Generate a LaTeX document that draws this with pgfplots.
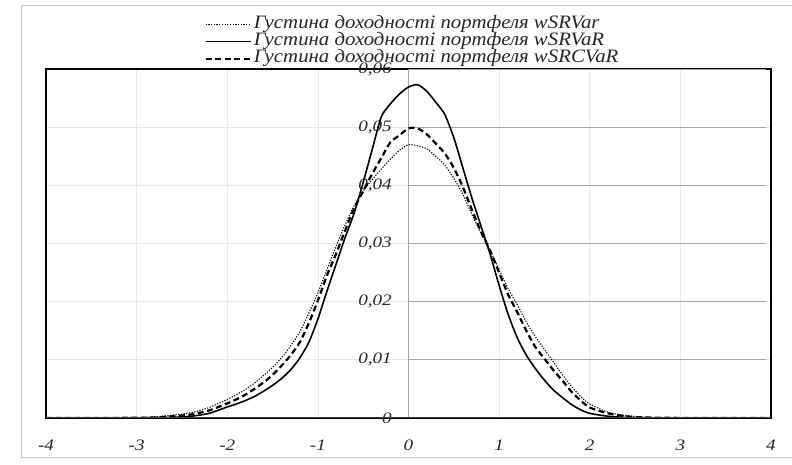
\documentclass[border=0pt]{standalone}
\usepackage{fontspec}
\setmainfont{Liberation Serif}[FakeStretch=1.2]
\newfontfamily\legfont{Liberation Serif}[FakeStretch=1.1]
\usepackage{pgfplots}
\usepackage{pgfplotstable}
\pgfplotsset{compat=1.18}

\pgfplotstableread{
x y
-4.0 0
-3.5 0
-3.0 0.00002
-2.8 0.00005
-2.6 0.00012
-2.4 0.0003
-2.2 0.0008
-2.0 0.0019
-1.9 0.0024
-1.8 0.0030
-1.7 0.0037
-1.6 0.0046
-1.5 0.0056
-1.4 0.0068
-1.3 0.0083
-1.2 0.0103
-1.1 0.0130
-1.0 0.0170
-0.9 0.0218
-0.8 0.0264
-0.7 0.0310
-0.6 0.0352
-0.5 0.0405
-0.4 0.0462
-0.3 0.0518
-0.2 0.0540
-0.1 0.0557
0.0 0.0569
0.1 0.0573
0.2 0.0562
0.3 0.0543
0.4 0.0522
0.5 0.0482
0.6 0.0430
0.7 0.0378
0.8 0.0330
0.9 0.0282
1.0 0.0228
1.1 0.0178
1.2 0.0138
1.3 0.0108
1.4 0.0085
1.5 0.0065
1.6 0.0048
1.7 0.0035
1.8 0.0023
1.9 0.0014
2.0 0.0008
2.2 0.0003
2.4 0.0001
2.6 0.00003
3.0 0.00001
3.5 0
4.0 0
}\solidtab

\pgfplotstableread{
x y
-4.0 0
-3.5 0
-3.0 0.00005
-2.8 0.0001
-2.6 0.0003
-2.4 0.0006
-2.2 0.0013
-2.0 0.0025
-1.9 0.0032
-1.8 0.0040
-1.7 0.0050
-1.6 0.0061
-1.5 0.0074
-1.4 0.0090
-1.3 0.0108
-1.2 0.0130
-1.1 0.0163
-1.0 0.0202
-0.9 0.0245
-0.8 0.0282
-0.7 0.0322
-0.6 0.0360
-0.5 0.0390
-0.4 0.0420
-0.3 0.0447
-0.2 0.0474
-0.1 0.0486
0.0 0.0498
0.1 0.0498
0.2 0.0488
0.3 0.0472
0.4 0.0455
0.5 0.0430
0.6 0.0397
0.7 0.0358
0.8 0.0320
0.9 0.0288
1.0 0.0250
1.1 0.0212
1.2 0.0182
1.3 0.0150
1.4 0.0122
1.5 0.0102
1.6 0.0082
1.7 0.0064
1.8 0.0045
1.9 0.0030
2.0 0.0018
2.2 0.0008
2.4 0.0003
2.6 0.0001
3.0 0.00002
3.5 0
4.0 0
}\dashtab

\pgfplotstableread{
x y
-4.0 0
-3.5 0
-3.0 0.0001
-2.8 0.0002
-2.6 0.0005
-2.4 0.0009
-2.2 0.0018
-2.0 0.0032
-1.9 0.0040
-1.8 0.0049
-1.7 0.0060
-1.6 0.0073
-1.5 0.0087
-1.4 0.0104
-1.3 0.0124
-1.2 0.0148
-1.1 0.0180
-1.0 0.0215
-0.9 0.0255
-0.8 0.0295
-0.7 0.0332
-0.6 0.0365
-0.5 0.0390
-0.4 0.0410
-0.3 0.0428
-0.2 0.0445
-0.1 0.0460
0.0 0.0470
0.1 0.0468
0.2 0.0463
0.3 0.0450
0.4 0.0435
0.5 0.0412
0.6 0.0385
0.7 0.0350
0.8 0.0318
0.9 0.0288
1.0 0.0255
1.1 0.0222
1.2 0.0195
1.3 0.0165
1.4 0.0140
1.5 0.0118
1.6 0.0096
1.7 0.0074
1.8 0.0054
1.9 0.0037
2.0 0.0024
2.2 0.0010
2.4 0.0004
2.6 0.00015
2.8 0.00005
3.0 0.00002
3.5 0
4.0 0
}\dottab

\begin{document}
\begin{tikzpicture}
\useasboundingbox (0,0) rectangle (792bp,465bp);
\fill[white] (0,0) rectangle (792bp,465bp);
\draw[gray!45, line width=1bp] (900bp,459bp) -- (21bp,459bp) -- (21bp,7bp) -- (900bp,7bp);
\begin{axis}[
  at={(46bp,47bp)}, anchor=south west,
  scale only axis, width=725bp, height=349bp,
  xmin=-4, xmax=4, ymin=0, ymax=0.06,
  xtick={-4,-3,-2,-1,0,1,2,3,4},
  xticklabels={-4,-3,-2,-1,0,1,2,3,4},
  ytick={0,0.01,0.02,0.03,0.04,0.05,0.06},
  yticklabels={0,{0,01},{0,02},{0,03},{0,04},{0,05},{0,06}},
  scaled y ticks=false,
  grid=major,
  grid style={gray!18, line width=0.7bp},
  axis line style={black, line width=1.1bp},
  tick style={draw=none},
  ticklabel style={font=\fontsize{16}{16}\selectfont\itshape, text=black!85},
  xticklabel style={anchor=center, yshift=-27bp},
  yticklabel style={anchor=east, inner sep=0pt, xshift=346bp},
  legend style={at={(rel axis cs:0.5,1)}, anchor=north, xshift=4bp, yshift=55bp,
    draw=none, fill=none, font=\legfont\fontsize{19}{17}\selectfont\itshape,
    nodes={inner ysep=0pt, inner xsep=2bp, text height=12bp, text depth=5bp, text=black!85},
    row sep=0pt},
  legend cell align=left,
  legend image code/.code={\draw[#1] (0bp,0bp) -- (45bp,0bp);},
]
\draw[gray!70, line width=1bp] (axis cs:0,0) -- (axis cs:0,0.06);
\pgfplotsinvokeforeach{0.01,0.02,0.03,0.04,0.05,0.06}{
  \draw[gray!70, line width=0.8bp] (axis cs:0,#1) -- ++(-5bp,0);
}
\pgfplotsinvokeforeach{-3,-2,-1,0,1,2,3,4}{
  \draw[gray!70, line width=0.8bp] (axis cs:#1,0) -- ++(0,-5bp);
}
\addplot[black, line width=1.1bp, dash pattern=on 1.2bp off 1.5bp, smooth, tension=0.4] table {\dottab};
\addlegendentry{Густина доходності портфеля wSRVar}
\addplot[black, line width=1.6bp, smooth, tension=0.4] table {\solidtab};
\addlegendentry{Густина доходності портфеля wSRVaR}
\addplot[black, line width=2.2bp, dash pattern=on 6bp off 3.5bp, smooth, tension=0.4] table {\dashtab};
\addlegendentry{Густина доходності портфеля wSRCVaR}
\draw[gray!50!black, line width=1.6bp] (axis cs:-4,0) -- (axis cs:4,0);
\end{axis}
\end{tikzpicture}
\end{document}
